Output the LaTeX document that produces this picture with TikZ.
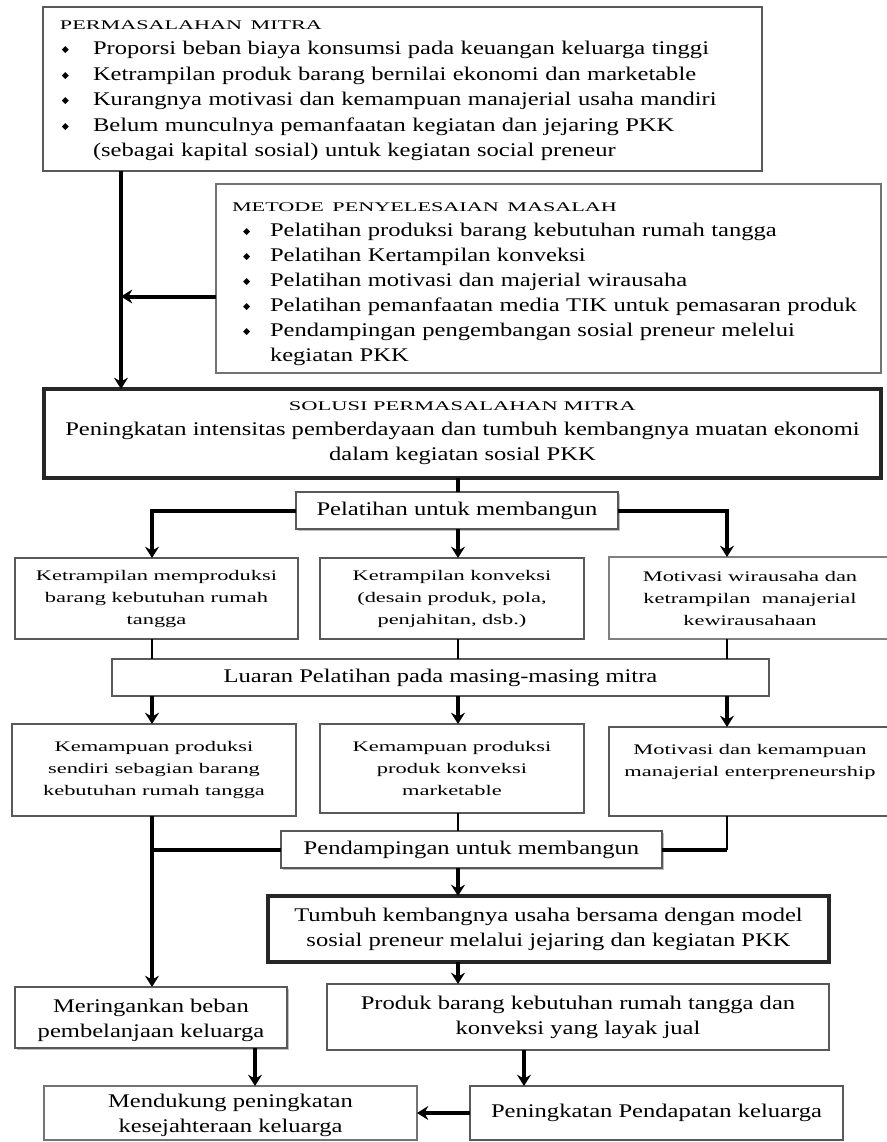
\documentclass[tikz,border=0pt]{standalone}
\usepackage{fontspec}
\usepackage{graphicx}
\setmainfont{Liberation Serif}
\newfontfamily\fbody{Liberation Serif}[FakeStretch=1.27]
\newfontfamily\fsmall{Liberation Serif}[FakeStretch=1.53]
\newfontfamily\fdj{DejaVu Sans}
\newcommand\tbody{\fbody\fontsize{14.5pt}{18.75pt}\selectfont}
\newcommand\tlist{\fbody\fontsize{14.5pt}{19.1pt}\selectfont}
\newcommand\tsmall{\fsmall\fontsize{11pt}{16.5pt}\selectfont}
\newcommand\hd[2]{\resizebox{#1}{6.6pt}{\fontsize{10pt}{12pt}\selectfont #2}}
\newcommand\bul{\raisebox{0.1em}{{\fdj\fontsize{7pt}{7pt}\selectfont ◆}}}
\newcommand\itemA{\hspace*{1.5pt}\makebox[23.25pt][l]{\bul}}
\newcommand\itemB{\hspace*{8.25pt}\makebox[20.25pt][l]{\bul}}
\usetikzlibrary{arrows.meta,shadows}
\tikzset{
  bx/.style 2 args={draw=black!65, line width=1.5pt, inner sep=0pt, outer sep=0pt,
     font=\tbody, align=center, minimum width=#1, minimum height=#2},
  sm/.style={font=\tsmall},
  dk/.style={draw=black!85, line width=2.4pt},
  shd/.style={drop shadow={shadow xshift=1.2pt, shadow yshift=-1.5pt, fill=black!25, opacity=1}, fill=white},
  cn/.style={line width=3pt},
  cnt/.style={line width=2.2pt},
  arr/.style={cn, -{Stealth[length=8.5pt,width=10.5pt,inset=3pt]}},
}
\begin{document}
\begin{tikzpicture}[x=0.75pt, y=-0.75pt]
\useasboundingbox (0,0) rectangle (887,1142);
% column coordinates
\coordinate (xL) at (121,0);
\coordinate (xa) at (152,0);
\coordinate (xb) at (458,0);
\coordinate (xc) at (727,0);
\coordinate (xm) at (255,0);
\coordinate (xp) at (524,0);

\node[bx={539.25pt}{123pt}, font=\tlist, text width=513.75pt, align=left] (p1) at (402.5,89) {%
\rule{0pt}{9.6pt}\hd{196.5pt}{PERMASALAHAN MITRA}\\[-0.5pt]
\itemA Proporsi beban biaya konsumsi pada keuangan keluarga tinggi\\
\itemA Ketrampilan produk barang bernilai ekonomi dan marketable\\
\itemA Kurangnya motivasi dan kemampuan manajerial usaha mandiri\\
\itemA Belum munculnya pemanfaatan kegiatan dan jejaring PKK\\
\hspace*{24.75pt}(sebagai kapital sosial) untuk kegiatan social preneur};

\node[bx={498.75pt}{141.75pt}, draw=black!55, text width=474.75pt, align=left] (m1) at (548.5,278.5) {%
\rule{0pt}{15.6pt}\hd{288.75pt}{METODE PENYELESAIAN MASALAH}\\[0pt]
\itemB Pelatihan produksi barang kebutuhan rumah tangga\\
\itemB Pelatihan Kertampilan konveksi\\
\itemB Pelatihan motivasi dan majerial wirausaha\\
\itemB Pelatihan pemanfaatan media TIK untuk pemasaran produk\\
\itemB Pendampingan pengembangan sosial preneur melelui\\
\hspace*{28.5pt}kegiatan PKK};

\node[bx={627.75pt}{66.75pt}, dk] (s1) at (462.5,433.5) {%
\hd{260.25pt}{SOLUSI PERMASALAHAN MITRA}\\[0pt]
Peningkatan intensitas pemberdayaan dan tumbuh kembangnya muatan ekonomi\\
dalam kegiatan sosial PKK};

\node[bx={241.5pt}{27.75pt}, shd] (pel) at (457,510.5) {Pelatihan untuk membangun};

\node[bx={212.25pt}{60.75pt}, sm] (A) at (156.5,598.5) {Ketrampilan memproduksi\\ barang kebutuhan rumah\\ tangga};
\node[bx={198pt}{60.75pt}, sm] (B) at (452,598.5) {Ketrampilan konveksi\\ (desain produk, pola,\\ penjahitan, dsb.)};
\node[bx={211.5pt}{61.5pt}, sm, draw=black!50] (C) at (750,598) {Motivasi wirausaha dan\\ ketrampilan \ manajerial\\ kewirausahaan};

\node[bx={492.75pt}{27.75pt}] (lu) at (440.5,677.5) {Luaran Pelatihan pada masing-masing mitra};

\node[bx={213pt}{69pt}, sm] (D) at (154,770) {Kemampuan produksi\\ sendiri sebagian barang\\ kebutuhan rumah tangga};
\node[bx={198pt}{66.75pt}, sm] (E) at (452,768.5) {Kemampuan produksi\\ produk konveksi\\ marketable};
\node[bx={211.5pt}{66.75pt}, sm] (F) at (750,771.5) {Motivasi dan kemampuan\\ manajerial enterpreneurship\\ \mbox{}};

\node[bx={285.75pt}{27.75pt}, shd] (pen) at (471.5,849.5) {Pendampingan untuk membangun};

\node[bx={420.75pt}{49.5pt}, dk] (tum) at (548.5,929) {Tumbuh kembangnya usaha bersama dengan model\\ sosial preneur melalui jejaring dan kegiatan PKK};
\node[bx={376.5pt}{49.5pt}] (pro) at (578,1017) {Produk barang kebutuhan rumah tangga dan\\ konveksi yang layak jual};
\node[bx={204pt}{45.75pt}, shd] (mer) at (151,1017.5) {\rule{0pt}{14pt}Meringankan beban\\ pembelanjaan keluarga};
\node[bx={279.75pt}{40.5pt}, draw=black!55] (men) at (230.5,1113) {\rule{0pt}{13pt}Mendukung peningkatan\\ kesejahteraan keluarga};
\node[bx={279.75pt}{40.5pt}] (pen2) at (656.5,1113) {Peningkatan Pendapatan keluarga};

% connectors
\draw[arr] (xL |- p1.south) -- (xL |- s1.north);
\path ([yshift=-13.5pt]m1.west) coordinate (mw);
\draw[arr] (mw) -- (mw -| xL);
\draw[cn] (xb |- s1.south) -- (xb |- pel.north);
\draw[arr] (pel.west) -| (xa |- A.north);
\draw[arr] (pel.east) -| (xc |- C.north);
\draw[arr] (xb |- pel.south) -- (xb |- B.north);
\draw[cnt] (xa |- A.south) -- (xa |- lu.north);
\draw[cnt] (xb |- B.south) -- (xb |- lu.north);
\draw[cnt] (xc |- C.south) -- (xc |- lu.north);
\draw[arr] (xa |- lu.south) -- (xa |- D.north);
\draw[arr] (xb |- lu.south) -- (xb |- E.north);
\draw[arr] (xc |- lu.south) -- (xc |- F.north);
\draw[arr] (xa |- D.south) -- (xa |- mer.north);
\draw[cn] (pen.west) -- (pen.west -| xa);
\draw[cnt] (xb |- E.south) -- (xb |- pen.north);
\draw[cnt] (xc |- F.south) -- (xc |- pen.east);
\draw[cn] (xc |- pen.east) -- (pen.east);
\draw[arr] (xb |- pen.south) -- (xb |- tum.north);
\draw[arr] (xb |- tum.south) -- (xb |- pro.north);
\draw[arr] (xm |- mer.south) -- (xm |- men.north);
\draw[arr] (xp |- pro.south) -- (xp |- pen2.north);
\draw[arr] (pen2.west) -- (men.east);
\end{tikzpicture}
\end{document}
